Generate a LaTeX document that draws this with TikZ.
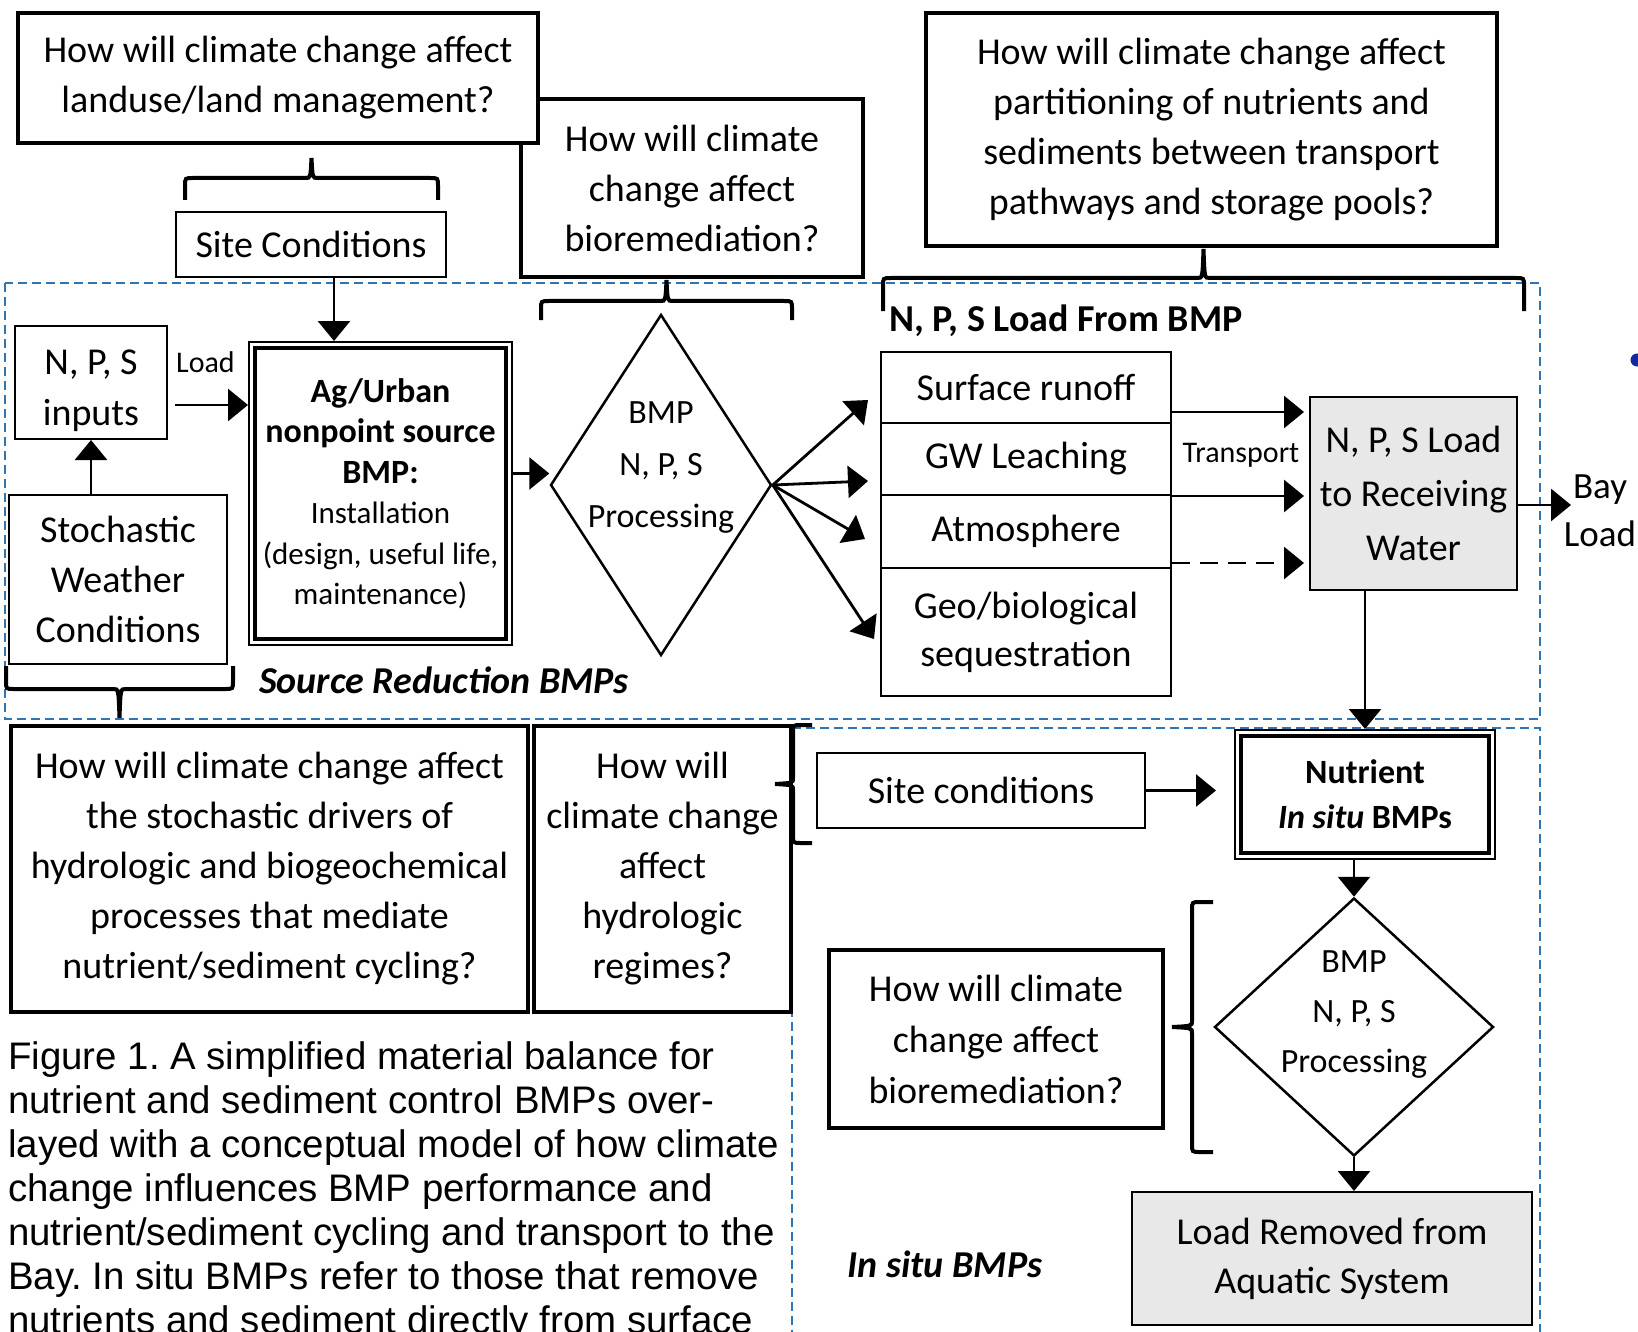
\documentclass[tikz,border=0pt]{standalone}
\usepackage{fontspec}
\setmainfont{Carlito}
\newfontfamily\capfont{Liberation Sans}
\usetikzlibrary{shapes.geometric,arrows.meta}
\definecolor{zoneblue}{RGB}{46,117,182}
\definecolor{dotblue}{RGB}{20,40,160}
\frenchspacing

\begin{document}
\begin{tikzpicture}[x=1pt,y=-1pt,
  qbox/.style={draw,line width=4pt,fill=white,align=center,inner sep=0pt,font=\fontsize{38}{50}\selectfont},
  pbox/.style={draw,line width=2pt,fill=white,align=center,inner sep=0pt,font=\fontsize{38}{50}\selectfont},
  gbox/.style={pbox,fill=gray!18},
  diam/.style={draw,diamond,line width=2.5pt,fill=white,inner sep=0pt},
  dtxt/.style={align=center,inner sep=0pt,font=\fontsize{34}{52}\selectfont},
  lbl/.style={inner sep=0pt,font=\fontsize{30}{36}\selectfont},
  arr/.style={line width=2.8pt,-{Triangle[length=20pt,width=32pt]}},
  brc/.style={line width=4pt},
  zone/.style={zoneblue,line width=1.8pt,dash pattern=on 9pt off 5pt},
  pics/curly/.style n args={3}{code={
    \draw[brc] (-#1,0) -- (-#1,-#2+8) .. controls (-#1,-#2) .. (-#1+8,-#2) -- (-6,-#2)
      .. controls (-1,-#2) .. (0,-#3) .. controls (1,-#2) .. (6,-#2)
      -- (#1-8,-#2) .. controls (#1,-#2) .. (#1,-#2+8) -- (#1,0);
  }}]
\useasboundingbox (0,0) rectangle (1638,1332);
% dashed zones
\draw[zone] (5,283) rectangle (1540,719);
\draw[zone] (792,728) -- (792,1340);
\draw[zone] (792,728) -- (1540,728) -- (1540,1340);
% questions on top
\node[qbox,minimum width=342pt,minimum height=178pt] (qbio) at (692,188) {How will climate\\change affect\\bioremediation?};
\node[qbox,minimum width=520pt,minimum height=130pt] (qland) at (278,78) {How will climate change affect\\landuse/land management?};
\node[qbox,minimum width=571pt,minimum height=233pt] (qpart) at (1211.5,129.5) {How will climate change affect\\partitioning of nutrients and\\sediments between transport\\pathways and storage pools?};
\pic at (311.5,200) {curly={126.5}{22}{42}};
\pic at (666.5,320) {curly={125.5}{19}{40}};
\pic at (1203.5,311) {curly={320.5}{33}{62}};
% source reduction part
\node[pbox,minimum width=270pt,minimum height=65pt] (site) at (311,244.5) {Site Conditions};
\node[pbox,minimum width=152pt,minimum height=113pt] (inputs) at (91,382.5) {};
\node[inner sep=0pt,align=center,font=\fontsize{38}{51}\selectfont] (inputstxt) at (91,391) {N, P, S\\inputs};
\node[pbox,minimum width=218pt,minimum height=169pt] (stoch) at (118,579.5) {Stochastic\\Weather\\Conditions};
\node[pbox,minimum width=263pt,minimum height=303pt,font=\fontsize{31}{40.5}\selectfont] (ag) at (380.5,493.5) {{\fontsize{34}{40.5}\selectfont\bfseries Ag/Urban}\\{\fontsize{34}{40.5}\selectfont\bfseries nonpoint source}\\{\fontsize{34}{40.5}\selectfont\bfseries BMP:}\\Installation\\(design, useful life,\\maintenance)};
\draw[line width=3.5pt] ([shift={(7pt,7pt)}]ag.south west) rectangle ([shift={(-7pt,-7pt)}]ag.north east);
\node[diam,minimum width=221pt,minimum height=341pt] (dia1) at (661,485) {};
\node[dtxt] (dia1txt) at (661,468) {BMP\\N, P, S\\Processing};
\node[lbl,anchor=west] (loadlbl) at (176,362) {Load};
\node[inner sep=0pt,anchor=west,font=\fontsize{38}{46}\selectfont\bfseries\itshape] (srclbl) at (259,680) {Source Reduction BMPs};
\node[inner sep=0pt,anchor=west,font=\fontsize{38}{46}\selectfont\bfseries] (fromlbl) at (889,321) {N, P, S Load From BMP};
\pic[rotate=180] at (119.5,666) {curly={113.5}{23}{52}};
% pathways
\node[pbox,minimum width=290pt,minimum height=71pt] (surf) at (1026,387.5) {Surface runoff};
\node[pbox,minimum width=290pt,minimum height=72pt] (gw) at (1026,459) {GW Leaching};
\node[pbox,minimum width=290pt,minimum height=73pt] (atm) at (1026,531.5) {Atmosphere};
\node[pbox,minimum width=290pt,minimum height=128pt,font=\fontsize{38}{48}\selectfont] (geo) at (1026,632) {Geo/biological\\sequestration};
\node[gbox,minimum width=207pt,minimum height=193pt,font=\fontsize{38}{54}\selectfont] (recv) at (1413.5,493.5) {N, P, S Load\\to Receiving\\Water};
\node[lbl] (translbl) at (1241,455) {Transport};
\node[inner sep=0pt,align=center,font=\fontsize{37}{48}\selectfont] (bay) at (1600,511) {Bay\\Load};
\coordinate (bayin) at (1571,505);
\fill[dotblue] (1637,360) circle (6.5pt);
% arrows upper part
\draw[arr] ([xshift=23pt]site.south) -- ([xshift=23pt]site.south |- ag.north);
\draw[arr] ([xshift=7pt,yshift=-22.5pt]inputs.east) -- ([yshift=-22.5pt]inputs.east -| ag.west);
\draw[arr] (inputs.south |- stoch.north) -- (inputs.south);
\draw[arr] ([yshift=20pt]ag.east) -- ([yshift=20pt]ag.east -| dia1.west);
\draw[arr] (dia1.east) -- ([xshift=-12pt,yshift=-12.5pt]surf.west);
\draw[arr] (dia1.east) -- ([xshift=-12pt,yshift=-22pt]gw.west);
\draw[arr] (dia1.east) -- ([xshift=-15pt,yshift=-7.5pt]atm.west);
\draw[arr] (dia1.east) -- ([xshift=-6pt,yshift=-7pt]geo.west);
\draw[arr] ([yshift=12pt]surf.south east) -- ([xshift=-5pt,yshift=12pt]surf.south east -| recv.west);
\draw[arr] (gw.south east) -- ([xshift=-5pt]gw.south east -| recv.west);
\draw[arr,dash pattern=on 18pt off 10pt] ([yshift=6pt]atm.south east) -- ([xshift=-5pt,yshift=6pt]atm.south east -| recv.west);
\draw[arr] ([yshift=-11.5pt]recv.east) -- (bayin);
% lower questions
\node[qbox,minimum width=517pt,minimum height=286pt] (qstoch) at (269.5,869) {How will climate change affect\\the stochastic drivers of\\hydrologic and biogeochemical\\processes that mediate\\nutrient/sediment cycling?};
\node[qbox,minimum width=257pt,minimum height=286pt] (qhydro) at (662.5,869) {How will\\climate change\\affect\\hydrologic\\regimes?};
\pic[rotate=90] at (812,784) {curly={59}{19}{37}};
% in situ part
\node[pbox,minimum width=328pt,minimum height=75pt] (sitec) at (981,790.5) {Site conditions};
\node[pbox,minimum width=260pt,minimum height=129pt,font=\fontsize{34}{45}\selectfont] (nut) at (1365,794.5) {\textbf{Nutrient}\\\textbf{\textit{In situ} BMPs}};
\draw[line width=3.5pt] ([shift={(7pt,7pt)}]nut.south west) rectangle ([shift={(-7pt,-7pt)}]nut.north east);
\node[diam,minimum width=279pt,minimum height=258pt] (dia2) at (1354,1027) {};
\node[dtxt,font=\fontsize{34}{50}\selectfont] (dia2txt) at (1354,1015) {BMP\\N, P, S\\Processing};
\node[qbox,minimum width=334pt,minimum height=178pt,font=\fontsize{38}{51}\selectfont] (qbio2) at (996,1039) {How will climate\\change affect\\bioremediation?};
\pic[rotate=90] at (1213,1027) {curly={125}{21}{41}};
\node[gbox,minimum width=400pt,minimum height=133pt,font=\fontsize{38}{49}\selectfont] (removed) at (1332,1258.5) {Load Removed from\\Aquatic System};
\node[inner sep=0pt,font=\fontsize{38}{46}\selectfont\bfseries\itshape] (insitulbl) at (945,1264) {In situ BMPs};
\draw[arr] (nut.north |- recv.south) -- (nut.north);
\draw[arr] (sitec.east) -- ([xshift=-18pt]nut.west |- sitec.east);
\draw[arr] (dia2.north |- nut.south) -- (dia2.north);
\draw[arr] (dia2.south) -- (dia2.south |- removed.north);
% caption
\node[anchor=north west,align=left,inner sep=0pt,font=\capfont\fontsize{38.4}{44}\selectfont] (cap) at (8,1041) {Figure 1. A simplified material balance for\\nutrient and sediment control BMPs over-\\layed with a conceptual model of how climate\\change influences BMP performance and\\nutrient/sediment cycling and transport to the\\Bay. In situ BMPs refer to those that remove\\nutrients and sediment directly from surface};
\end{tikzpicture}
\end{document}
